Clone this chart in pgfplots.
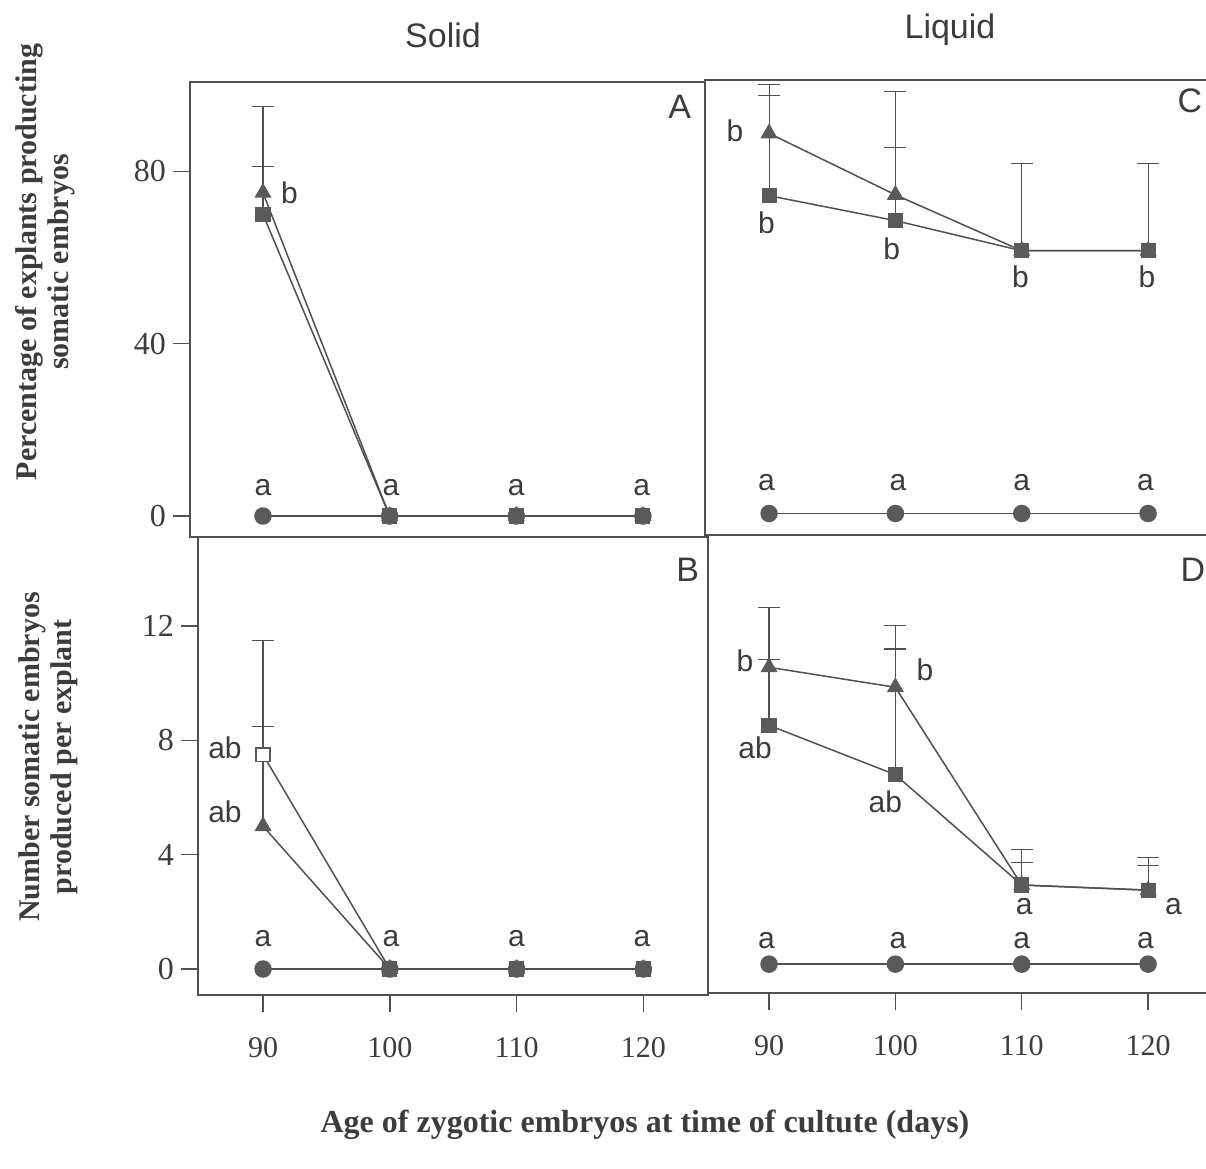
\documentclass[border=0pt]{standalone}
\usepackage{pgfplots}
\pgfplotsset{compat=1.18}
\usepackage{fontspec}
\usepackage{graphicx}
\setmainfont{Liberation Serif}
\newfontfamily\lsans{Liberation Sans}
\definecolor{ink}{HTML}{505050}
\definecolor{mk}{HTML}{5A5A5A}
\definecolor{txt}{HTML}{3C3C3C}
\tikzset{
  lab/.style={font=\lsans\fontsize{15bp}{17bp}\selectfont, text=txt, inner sep=0pt},
  plab/.style={font=\lsans\fontsize{17bp}{19bp}\selectfont, text=txt, inner sep=0pt},
}
\begin{document}
\begin{tikzpicture}
\useasboundingbox (0,0) rectangle (603bp,-584.5bp);
\pgfplotsset{
  panel/.style={
    scale only axis, anchor=north west,
    axis line style={ink, line width=0.8bp},
    tick style={ink, line width=0.7bp},
    tick align=outside, major tick length=8.5bp,
    xtick pos=bottom, ytick pos=left,
    xtick={90,100,110,120},
    /pgf/number format/assume math mode=true,
    tick label style={text=txt},
    xticklabel style={font=\fontsize{15bp}{17bp}\selectfont, yshift=-9bp},
    yticklabel style={font=\fontsize{16bp}{18bp}\selectfont},
    clip=false,
  },
  noxt/.style={xtick=\empty},
  noyt/.style={ytick=\empty},
  circ/.style={ink, line width=0.75bp, mark=*, mark size=4bp, mark options={fill=mk, draw=mk, solid}},
  sq/.style={ink, line width=0.75bp, mark=square*, mark size=3.4bp, mark options={fill=mk, draw=mk, solid}},
  tri/.style={ink, line width=0.75bp, mark=triangle*, mark size=4.2bp, mark options={fill=mk, draw=mk, solid}},
  eb/.style={only marks, mark=*, mark size=0pt, mark options={draw=none, fill=none}, forget plot,
    error bars/.cd, y dir=plus, y explicit,
    error bar style={draw=ink, line width=0.55bp, solid},
    error mark=|,
    error mark options={draw=ink, mark size=5.5bp, line width=0.55bp, solid}},
}
% ---------- Panel A ----------
\begin{axis}[panel, noxt, at={(95bp,-41bp)}, width=257.5bp, height=227.5bp,
  xmin=84.24, xmax=124.9, ymin=-4.87, ymax=100.7, ytick={0,40,80}]
\addplot[eb] coordinates {(90,75) +- (0,20) (90,70) +- (0,11)};
\addplot[circ] coordinates {(90,0) (100,0) (110,0) (120,0)};
\addplot[tri] coordinates {(90,75) (100,0) (110,0) (120,0)};
\addplot[sq] coordinates {(90,70) (100,0) (110,0) (120,0)};
\node[lab] at (axis cs:92.1,75) {b};
\node[lab] at (axis cs:90,6.5) {a};
\node[lab] at (axis cs:100.1,6.5) {a};
\node[lab] at (axis cs:110,6.5) {a};
\node[lab] at (axis cs:119.9,6.5) {a};
\node[plab] at (axis cs:122.9,94.9) {A};
\end{axis}
% ---------- Panel C ----------
\begin{axis}[panel, noxt, noyt, at={(352.5bp,-40bp)}, width=252.5bp, height=227.5bp,
  xmin=84.93, xmax=124.9, ymin=-4.4, ymax=101.4]
\addplot[eb] coordinates {(90,89) +- (0,11.4) (90,74.5) +- (0,23.2)
  (100,74.7) +- (0,24) (100,68.7) +- (0,17) (110,61.7) +- (0,20.3) (120,61.7) +- (0,20.3)};
\addplot[circ] coordinates {(90,0.6) (100,0.6) (110,0.6) (120,0.6)};
\addplot[tri] coordinates {(90,89) (100,74.7) (110,61.7) (120,61.7)};
\addplot[sq] coordinates {(90,74.5) (100,68.7) (110,61.7) (120,61.7)};
\node[lab] at (axis cs:87.3,89.6) {b};
\node[lab] at (axis cs:89.8,68.2) {b};
\node[lab] at (axis cs:99.7,62.2) {b};
\node[lab] at (axis cs:109.9,55.7) {b};
\node[lab] at (axis cs:119.9,55.7) {b};
\node[lab] at (axis cs:89.8,7.7) {a};
\node[lab] at (axis cs:100.2,7.7) {a};
\node[lab] at (axis cs:110,7.7) {a};
\node[lab] at (axis cs:119.8,7.7) {a};
\node[plab] at (axis cs:123.3,96.5) {C};
\end{axis}
% ---------- Panel B ----------
\begin{axis}[panel, at={(99bp,-268.5bp)}, width=255bp, height=229bp,
  xmin=84.87, xmax=125.1, ymin=-0.91, ymax=15.12, ytick={0,4,8,12}]
\addplot[eb] coordinates {(90,7.5) +- (0,4) (90,5) +- (0,3.5)};
\addplot[circ] coordinates {(90,0) (100,0) (110,0) (120,0)};
\addplot[tri] coordinates {(90,5) (100,0) (110,0) (120,0)};
\addplot[sq] coordinates {(90,7.5) (100,0) (110,0) (120,0)};
\addplot[only marks, forget plot, mark=square*, mark size=3.4bp, mark options={fill=white, draw=mk, line width=0.7bp}] coordinates {(90,7.5)};
\node[lab] at (axis cs:87.0,7.73) {ab};
\node[lab] at (axis cs:87.0,5.5) {ab};
\node[lab] at (axis cs:90,1.08) {a};
\node[lab] at (axis cs:100.1,1.08) {a};
\node[lab] at (axis cs:110,1.08) {a};
\node[lab] at (axis cs:119.9,1.08) {a};
\node[plab] at (axis cs:123.5,13.97) {B};
\end{axis}
% ---------- Panel D ----------
\begin{axis}[panel, noyt, at={(354bp,-267.5bp)}, width=251bp, height=229bp,
  xmin=85.17, xmax=124.9, ymin=-0.84, ymax=15.19]
\addplot[eb] coordinates {(90,10.56) +- (0,2.1) (90,8.53) +- (0,2.3)
  (100,9.86) +- (0,2.15) (100,6.8) +- (0,4.4)
  (110,2.94) +- (0,1.25) (110,2.94) +- (0,0.8)
  (120,2.76) +- (0,1.15) (120,2.76) +- (0,0.85)};
\addplot[circ] coordinates {(90,0.17) (100,0.17) (110,0.17) (120,0.17)};
\addplot[tri] coordinates {(90,10.56) (100,9.86) (110,2.94) (120,2.76)};
\addplot[sq] coordinates {(90,8.53) (100,6.8) (110,2.94) (120,2.76)};
\node[lab] at (axis cs:88.1,10.8) {b};
\node[lab] at (axis cs:102.35,10.47) {b};
\node[lab] at (axis cs:88.9,7.74) {ab};
\node[lab] at (axis cs:99.2,5.85) {ab};
\node[lab] at (axis cs:110.2,2.2) {a};
\node[lab] at (axis cs:122.0,2.2) {a};
\node[lab] at (axis cs:89.8,1.0) {a};
\node[lab] at (axis cs:100.2,1.0) {a};
\node[lab] at (axis cs:110,1.0) {a};
\node[lab] at (axis cs:119.8,1.0) {a};
\node[plab] at (axis cs:123.55,13.97) {D};
\end{axis}
% ---------- Titles and labels ----------
\node[font=\lsans\fontsize{17bp}{19bp}\selectfont, text=txt] at (221.5bp,-17.5bp) {Solid};
\node[font=\lsans\fontsize{17bp}{19bp}\selectfont, text=txt] at (475bp,-15bp) {Liquid};
\node[rotate=90, align=center, text=txt, font=\fontsize{15bp}{16bp}\selectfont\bfseries] at (22.5bp,-131bp)
  {Percentage of explants producting\\somatic embryos};
\node[rotate=90, align=center, text=txt, font=\fontsize{15bp}{16bp}\selectfont\bfseries] at (24bp,-378.5bp)
  {Number somatic embryos\\produced per explant};
\node[text=txt, font=\fontsize{16bp}{18bp}\selectfont\bfseries] at (322.5bp,-562.5bp)
  {Age of zygotic embryos at time of cultute (days)};
\end{tikzpicture}
\end{document}
